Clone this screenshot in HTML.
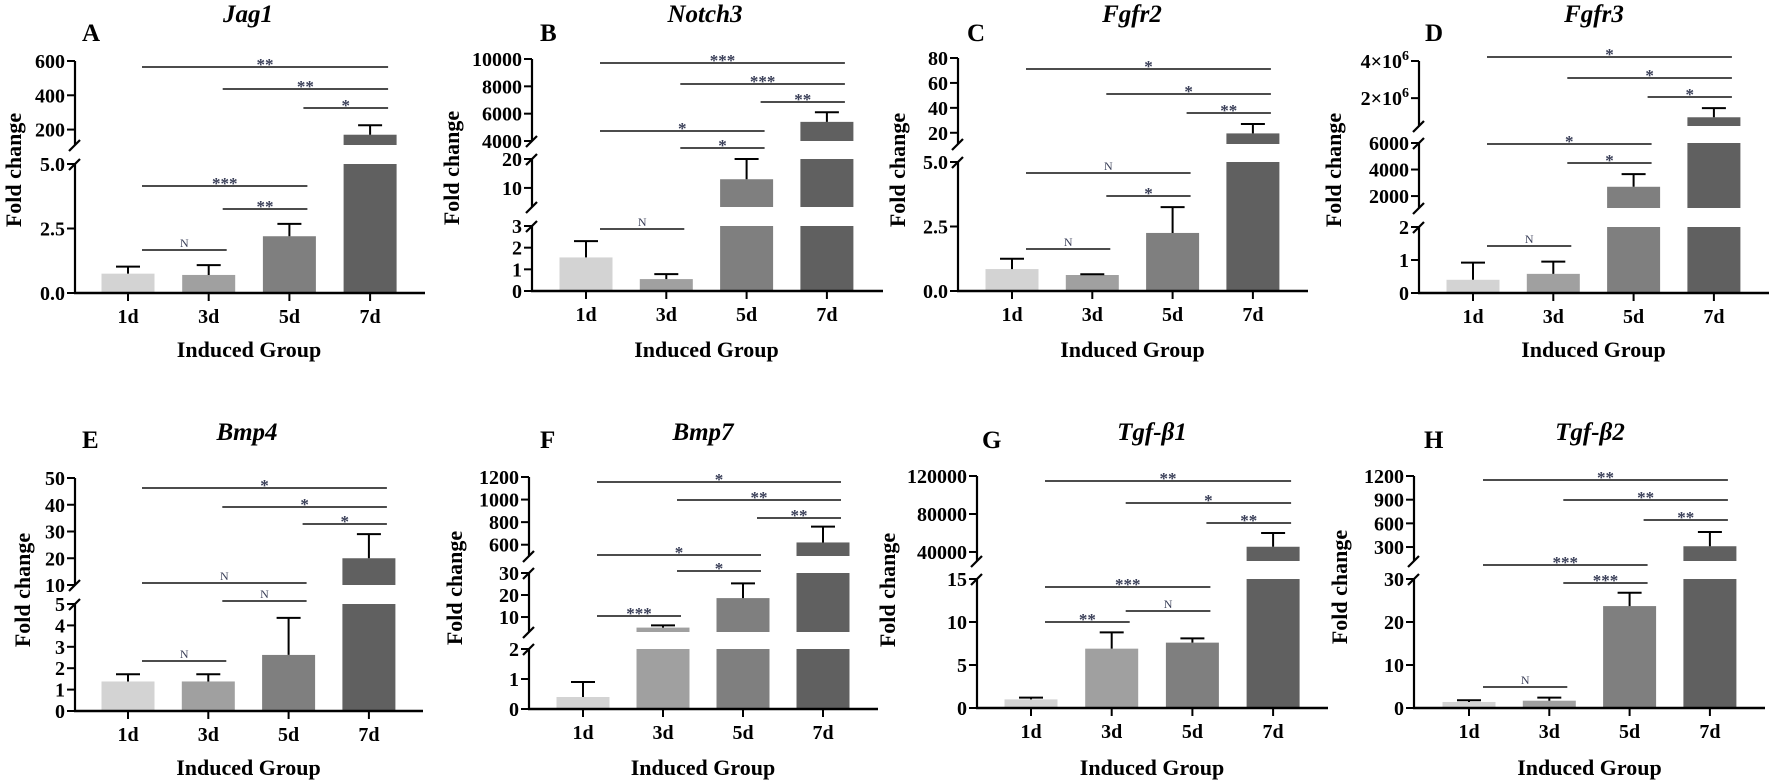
<!DOCTYPE html>
<html><head><meta charset="utf-8">
<style>
html,body{margin:0;padding:0;background:#fff;}
svg{display:block;font-family:"Liberation Serif",serif;}
</style></head>
<body>
<svg id="fig" width="1772" height="782" viewBox="0 0 1772 782" xmlns="http://www.w3.org/2000/svg"></svg>
<script>
const categories = ["1d","3d","5d","7d"];
const barColors = ["#d3d3d3","#a0a0a0","#7f7f7f","#606060"];

const jag1Means = [0.75, 0.7, 2.2, 170];
const jag1Errors = [1.02, 1.08, 2.68, 225];
const jag1Ticks = [[0,2.5,5],[200,400,600]];
const jag1TickLabels = [["0.0","2.5","5.0"],["200","400","600"]];
const jag1Domains = [[0,5],[110,600]];
const jag1Sig = [[0,3,"**"],[1,3,"**"],[2,3,"*"],[0,2,"***"],[1,2,"**"],[0,1,"N"]];

const notch3Means = [1.55, 0.55, 13, 5400];
const notch3Errors = [2.3, 0.78, 20, 6100];
const notch3Ticks = [[0,1,2,3],[10,20],[4000,6000,8000,10000]];
const notch3TickLabels = [["0","1","2","3"],["10","20"],["4000","6000","8000","10000"]];
const notch3Domains = [[0,3],[3.4,20],[4000,10000]];
const notch3Sig = [[0,3,"***"],[1,3,"***"],[2,3,"**"],[0,2,"*"],[1,2,"*"],[0,1,"N"]];

const fgfr2Means = [0.85, 0.62, 2.25, 19.5];
const fgfr2Errors = [1.25, 0.65, 3.25, 27];
const fgfr2Ticks = [[0,2.5,5],[20,40,60,80]];
const fgfr2TickLabels = [["0.0","2.5","5.0"],["20","40","60","80"]];
const fgfr2Domains = [[0,5],[11,80]];
const fgfr2Sig = [[0,3,"*"],[1,3,"*"],[2,3,"**"],[0,2,"N"],[1,2,"*"],[0,1,"N"]];

const fgfr3Means = [0.4, 0.58, 2700, 970000];
const fgfr3Errors = [0.92, 0.95, 3650, 1460000];
const fgfr3Ticks = [[0,1,2],[2000,4000,6000],[2000000,4000000]];
const fgfr3TickLabels = [["0","1","2"],["2000","4000","6000"],["2×10|6","4×10|6"]];
const fgfr3Domains = [[0,2],[1100,6000],[500000,4000000]];
const fgfr3Sig = [[0,3,"*"],[1,3,"*"],[2,3,"*"],[0,2,"*"],[1,2,"*"],[0,1,"N"]];

const bmp4Means = [1.38, 1.38, 2.62, 20];
const bmp4Errors = [1.72, 1.72, 4.35, 29];
const bmp4Ticks = [[0,1,2,3,4,5],[10,20,30,40,50]];
const bmp4TickLabels = [["0","1","2","3","4","5"],["10","20","30","40","50"]];
const bmp4Domains = [[0,5],[10,50]];
const bmp4Sig = [[0,3,"*"],[1,3,"*"],[2,3,"*"],[0,2,"N"],[1,2,"N"],[0,1,"N"]];

const bmp7Means = [0.4, 5.2, 18.6, 620];
const bmp7Errors = [0.9, 6.2, 25.3, 760];
const bmp7Ticks = [[0,1,2],[10,20,30],[600,800,1000,1200]];
const bmp7TickLabels = [["0","1","2"],["10","20","30"],["600","800","1000","1200"]];
const bmp7Domains = [[0,2],[3.2,30],[500,1200]];
const bmp7Sig = [[0,3,"*"],[1,3,"**"],[2,3,"**"],[0,2,"*"],[1,2,"*"],[0,1,"***"]];

const tgfb1Means = [1, 6.9, 7.6, 45500];
const tgfb1Errors = [1.2, 8.8, 8.1, 60000];
const tgfb1Ticks = [[0,5,10,15],[40000,80000,120000]];
const tgfb1TickLabels = [["0","5","10","15"],["40000","80000","120000"]];
const tgfb1Domains = [[0,15],[30500,120000]];
const tgfb1Sig = [[0,3,"**"],[1,3,"*"],[2,3,"**"],[0,2,"***"],[1,2,"N"],[0,1,"**"]];

const tgfb2Means = [1.4, 1.7, 23.7, 310];
const tgfb2Errors = [1.8, 2.4, 26.8, 490];
const tgfb2Ticks = [[0,10,20,30],[300,600,900,1200]];
const tgfb2TickLabels = [["0","10","20","30"],["300","600","900","1200"]];
const tgfb2Domains = [[0,30],[123,1200]];
const tgfb2Sig = [[0,3,"**"],[1,3,"**"],[2,3,"**"],[0,2,"***"],[1,2,"***"],[0,1,"N"]];

// layout (pixels only)
const panels = [
 {letter:"A",gene:"Jag1",means:jag1Means,errs:jag1Errors,ticks:jag1Ticks,labels:jag1TickLabels,domains:jag1Domains,sig:jag1Sig,
  ax:75,base:293,xEnd:425,c0:128,step:80.7,segPx:[[293,164],[145,61]],sigY:[67,89,108,186,209,250],
  titleX:248,titleY:22,letterX:82,letterY:41,ylX:14,ylY:170,xlY:357},
 {letter:"B",gene:"Notch3",means:notch3Means,errs:notch3Errors,ticks:notch3Ticks,labels:notch3TickLabels,domains:notch3Domains,sig:notch3Sig,
  ax:532,base:291,xEnd:883,c0:586,step:80.3,segPx:[[291,226],[207,159],[141,59]],sigY:[63,84,102,131,148,229],
  titleX:705,titleY:22,letterX:540,letterY:41,ylX:452,ylY:168,xlY:357},
 {letter:"C",gene:"Fgfr2",means:fgfr2Means,errs:fgfr2Errors,ticks:fgfr2Ticks,labels:fgfr2TickLabels,domains:fgfr2Domains,sig:fgfr2Sig,
  ax:958,base:291,xEnd:1308,c0:1012,step:80.3,segPx:[[291,162],[144,58]],sigY:[69,94,113,173,196,249],
  titleX:1132,titleY:22,letterX:967,letterY:41,ylX:898,ylY:170,xlY:357},
 {letter:"D",gene:"Fgfr3",means:fgfr3Means,errs:fgfr3Errors,ticks:fgfr3Ticks,labels:fgfr3TickLabels,domains:fgfr3Domains,sig:fgfr3Sig,
  ax:1419,base:293,xEnd:1769,c0:1473,step:80.3,segPx:[[293,227],[208,143],[126,61]],sigY:[57,78,97,144,163,246],
  titleX:1594,titleY:22,letterX:1425,letterY:41,ylX:1334,ylY:170,xlY:357},
 {letter:"E",gene:"Bmp4",means:bmp4Means,errs:bmp4Errors,ticks:bmp4Ticks,labels:bmp4TickLabels,domains:bmp4Domains,sig:bmp4Sig,
  ax:75,base:711,xEnd:423,c0:128,step:80.3,segPx:[[711,604],[585,478]],sigY:[488,507,524,583,601,661],
  titleX:247,titleY:440,letterX:82,letterY:448,ylX:23,ylY:590,xlY:775},
 {letter:"F",gene:"Bmp7",means:bmp7Means,errs:bmp7Errors,ticks:bmp7Ticks,labels:bmp7TickLabels,domains:bmp7Domains,sig:bmp7Sig,
  ax:529,base:709,xEnd:878,c0:583,step:80,segPx:[[709,649],[632,573],[556,477]],sigY:[482,500,518,555,571,616],
  titleX:703,titleY:440,letterX:540,letterY:448,ylX:455,ylY:588,xlY:775},
 {letter:"G",gene:"Tgf-β1",means:tgfb1Means,errs:tgfb1Errors,ticks:tgfb1Ticks,labels:tgfb1TickLabels,domains:tgfb1Domains,sig:tgfb1Sig,
  ax:977,base:708,xEnd:1328,c0:1031,step:80.7,segPx:[[708,579],[561,476]],sigY:[481,503,523,587,611,622],
  titleX:1152,titleY:440,letterX:982,letterY:448,ylX:888,ylY:590,xlY:775},
 {letter:"H",gene:"Tgf-β2",means:tgfb2Means,errs:tgfb2Errors,ticks:tgfb2Ticks,labels:tgfb2TickLabels,domains:tgfb2Domains,sig:tgfb2Sig,
  ax:1414,base:708,xEnd:1765,c0:1469,step:80.3,segPx:[[708,579],[561,476]],sigY:[480,500,520,565,583,687],
  titleX:1590,titleY:440,letterX:1424,letterY:448,ylX:1340,ylY:587,xlY:775}
];

const NS = "http://www.w3.org/2000/svg";
const svg = document.getElementById("fig");
function mk(tag, attrs, parent){
  const e = document.createElementNS(NS, tag);
  for (const k in attrs) e.setAttribute(k, attrs[k]);
  (parent||svg).appendChild(e);
  return e;
}
function txt(parent, x, y, s, size, extra){
  const t = mk("text", Object.assign({x:x, y:y, "font-size":size, "font-weight":"bold", fill:"#000"}, extra||{}), parent);
  t.textContent = s;
  return t;
}

panels.forEach(function(p){
  const g = mk("g", {});
  
  
  const segs = p.domains.map(function(d, i){ return {lo:d[0], hi:d[1], y0:p.segPx[i][0], y1:p.segPx[i][1]}; });
  function yOf(si, v){ const s = segs[si]; return s.y0 - (v - s.lo) / (s.hi - s.lo) * (s.y0 - s.y1); }
  function segFor(v){ for (let i = 0; i < segs.length; i++){ if (v <= segs[i].hi) return i; } return segs.length - 1; }
  function xOf(i){ return p.c0 + i * p.step; }

  // letter + title
  const lt = txt(g, p.letterX, p.letterY, p.letter, 25);
  
  
  const tt = txt(g, p.titleX, p.titleY, p.gene, 25, {"text-anchor":"middle","font-style":"italic"});
  
  

  // y axis label
  const yl = txt(g, 0, 0, "Fold change", 22, {"text-anchor":"middle", transform:"translate(" + (p.ylX + 7) + "," + p.ylY + ") rotate(-90)"});
  
  

  // bars
  p.means.forEach(function(v, i){
    const cx = xOf(i);
    segs.forEach(function(s, si){
      if (v <= s.lo && si > 0) return;
      const top = yOf(si, Math.min(v, s.hi));
      const r = mk("rect", {x:cx - 26.5, y:top, width:53, height:Math.max(0, s.y0 - top), fill:barColors[i]}, g);
      
      
    });
    const e = p.errs[i];
    const es = segFor(e);
    const vs = segFor(v);
    const yTop = yOf(es, e);
    const yBot = (vs === es) ? yOf(vs, v) : segs[es].y0;
    const eb = mk("path", {d:"M" + cx + "," + yBot + "V" + yTop + "M" + (cx - 12) + "," + yTop + "H" + (cx + 12), stroke:"#000", "stroke-width":2, fill:"none"}, g);
    
    
  });

  // y axis segments, ticks, breaks
  segs.forEach(function(s, si){
    const ax = mk("line", {x1:p.ax, x2:p.ax, y1:s.y0, y2:s.y1, stroke:"#000", "stroke-width":2.2}, g);
    
    
    if (si > 0){
      const br = mk("path", {d:"M" + (p.ax - 6) + "," + (s.y0 + 6) + "L" + (p.ax + 5) + "," + (s.y0 - 5) + "M" + (p.ax - 6) + "," + (segs[si-1].y1 + 6) + "L" + (p.ax + 5) + "," + (segs[si-1].y1 - 5), stroke:"#000", "stroke-width":2.2, fill:"none"}, g);
      
      
    }
    p.ticks[si].forEach(function(tv, ti){
      const ty = yOf(si, tv);
      const tk = mk("line", {x1:p.ax - 8, x2:p.ax, y1:ty, y2:ty, stroke:"#000", "stroke-width":2}, g);
      
      
      const lab = p.labels[si][ti];
      const t = txt(g, p.ax - 10, ty + 7, "", 20, {"text-anchor":"end"});
      if (lab.indexOf("|") >= 0){
        const parts = lab.split("|");
        const a = mk("tspan", {}, t); a.textContent = parts[0];
        const b = mk("tspan", {dy:-8, "font-size":14}, t); b.textContent = parts[1];
      } else {
        t.textContent = lab;
      }
      
      
    });
  });

  // x axis
  const xa = mk("line", {x1:p.ax - 1, x2:p.xEnd, y1:p.base, y2:p.base, stroke:"#000", "stroke-width":2.4}, g);
  
  
  categories.forEach(function(c, i){
    const cx = xOf(i);
    const tk = mk("line", {x1:cx, x2:cx, y1:p.base, y2:p.base + 8, stroke:"#000", "stroke-width":2}, g);
    
    
    const t = txt(g, cx, p.base + 30, c, 20, {"text-anchor":"middle"});
    
    
  });
  const xl = txt(g, (xOf(0) + xOf(3)) / 2, p.xlY, "Induced Group", 22, {"text-anchor":"middle"});
  
  

  // significance brackets
  p.sig.forEach(function(sg, k){
    const y = p.sigY[k];
    const x1 = xOf(sg[0]) + 14, x2 = xOf(sg[1]) + 18;
    const ln = mk("line", {x1:x1, x2:x2, y1:y, y2:y, stroke:"#111", "stroke-width":1.6}, g);
    
    
    const isN = sg[2] === "N";
    const t = txt(g, (x1 + x2) / 2, isN ? y - 3 : y + 3, sg[2], isN ? 12 : 17, {"text-anchor":"middle", fill:"#3a3f58", "font-weight":isN ? "normal" : "bold"});
    
    
  });
});
</script>
</body></html>
